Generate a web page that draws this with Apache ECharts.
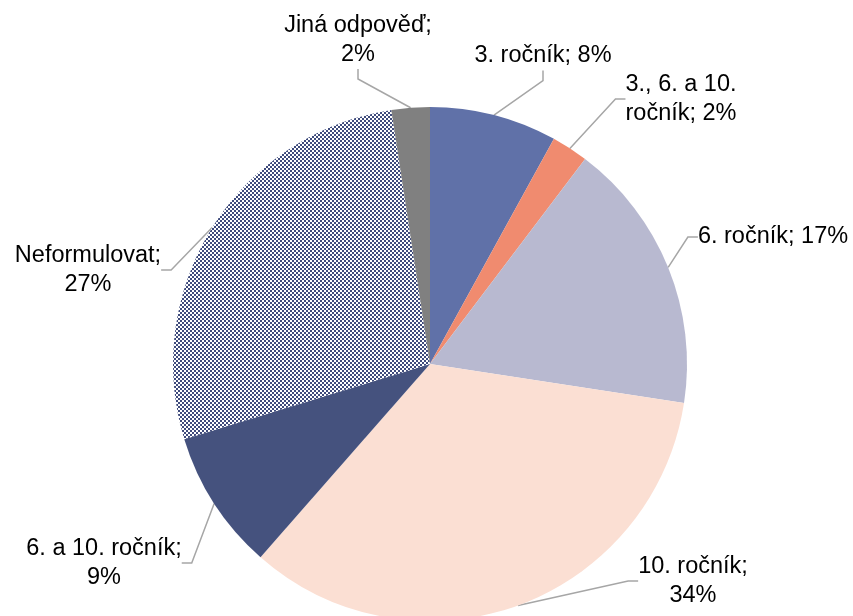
<!DOCTYPE html>
<html>
<head>
<meta charset="utf-8">
<script src="https://cdn.jsdelivr.net/npm/echarts@6/dist/echarts.min.js"></script>
<style>
  html, body { margin: 0; padding: 0; background: #fff; }
  #main { width: 853px; height: 616px; }
</style>
</head>
<body>
<div id="main"></div>
<script>
const categories = ['3. ročník', '3., 6. a 10. ročník', '6. ročník', '10. ročník', '6. a 10. ročník', 'Neformulovat', 'Jiná odpověď'];
const values = [8.0, 2.3, 17.1, 34.0, 8.8, 27.3, 2.4];
// where the label text wraps: 'none' one line, 'after' before the percent, 'inside' inside the name
const wraps = ['none', 'inside', 'none', 'after', 'after', 'after', 'after'];
const colors = ['#6071a8', '#f08b6f', '#b8b9d0', '#fbdfd3', '#45527e', 'pattern', '#808080'];
// label anchor (center) positions
const labelX = [543, 681, 773, 693, 104, 88, 358];
const labelY = [56, 99, 237, 581, 563, 270, 40];

const chartDom = document.getElementById('main');
const myChart = echarts.init(chartDom);

// small checker pattern for "Neformulovat"
const pat = document.createElement('canvas');
pat.width = 4;
pat.height = 4;
const ctx = pat.getContext('2d');
ctx.fillStyle = '#ffffff';
ctx.fillRect(0, 0, 4, 4);
ctx.fillStyle = '#3f4b7c';
ctx.fillRect(0, 0, 2, 2);
ctx.fillRect(2, 2, 2, 2);

const data = categories.map((name, i) => ({
  name: name,
  value: values[i],
  itemStyle: {
    color: colors[i] === 'pattern' ? { image: pat, repeat: 'repeat' } : colors[i]
  }
}));

let option = {
  animation: false,
  series: [
    {
      type: 'pie',
      radius: [0, 257],
      center: [430, 364],
      startAngle: 90,
      clockwise: true,
      data: data,
      label: {
        show: true,
        color: '#000',
        fontFamily: 'Liberation Sans, Arial, sans-serif',
        fontSize: 23.5,
        lineHeight: 29,
        align: 'center',
        formatter: function (p) {
          const pct = Math.round(p.percent) + '%';
          const w = wraps[p.dataIndex];
          if (w === 'after') return p.name + ';\n' + pct;
          if (w === 'inside') return '3., 6. a 10.\nročník; ' + pct;
          return p.name + '; ' + pct;
        }
      },
      labelLine: {
        show: true,
        length: 10,
        length2: 10,
        lineStyle: { color: '#a6a6a6', width: 1.5 }
      },
      labelLayout: function (params) {
        const i = params.dataIndex;
        return {
          x: labelX[i],
          y: labelY[i],
          align: 'center',
          verticalAlign: 'middle'
        };
      }
    }
  ]
};

myChart.setOption(option);
</script>
</body>
</html>
